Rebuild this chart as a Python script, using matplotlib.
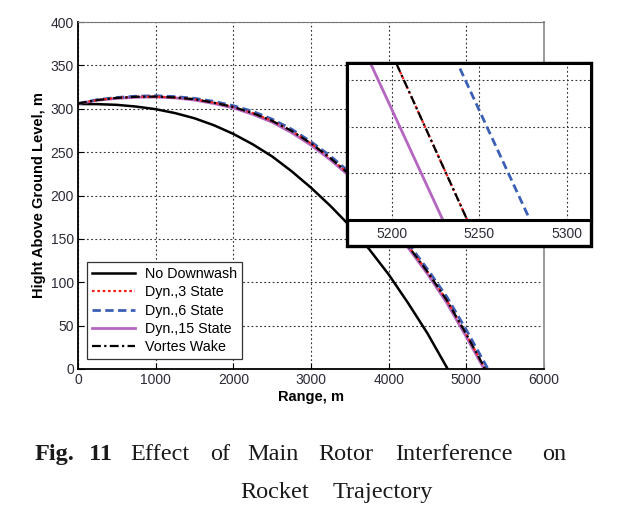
import matplotlib
matplotlib.use("Agg")
import matplotlib.pyplot as plt
from matplotlib.patches import Rectangle

# ---------------- data ----------------
x_nodw = [0, 250, 500, 750, 1000, 1250, 1500, 1750, 2000, 2250, 2500, 2750,
          3000, 3250, 3500, 3750, 4000, 4250, 4500, 4760]
y_nodw = [305.5, 305.3, 304.5, 302.5, 299.5, 295, 289, 281, 271, 259, 245, 228,
          209, 188, 165, 138, 109, 76, 41, 0]

x_dyn3 = [0, 250, 500, 750, 1000, 1250, 1500, 1750, 2000, 2250, 2500, 2750,
          3000, 3250, 3500, 3750, 4000, 4250, 4500, 4750, 5000, 5243]
y_dyn3 = [306, 310, 312.5, 313.8, 314, 313, 311, 307, 302, 295, 286, 274.5,
          260, 243, 224, 198.5, 170, 142, 112, 79, 40, 0]

x_dyn6 = [0, 250, 500, 750, 1000, 1250, 1500, 1750, 2000, 2250, 2500, 2750,
          3000, 3250, 3500, 3750, 4000, 4250, 4500, 4750, 5000, 5279]
y_dyn6 = [306, 310.5, 313, 314.5, 315, 314, 312, 308.5, 303.5, 297, 288, 276.5,
          262, 245.5, 226.5, 201, 173, 145, 115, 83, 45, 0]

x_dyn15 = [0, 250, 500, 750, 1000, 1250, 1500, 1750, 2000, 2250, 2500, 2750,
           3000, 3250, 3500, 3750, 4000, 4250, 4500, 4750, 5000, 5229]
y_dyn15 = [306, 309.8, 312, 313.2, 313.5, 312.5, 310, 306, 301, 293.5, 284.5, 272.5,
           258, 241, 222, 196.5, 168, 140, 109.5, 76, 37, 0]

x_vort = [0, 250, 500, 750, 1000, 1250, 1500, 1750, 2000, 2250, 2500, 2750,
          3000, 3250, 3500, 3750, 4000, 4250, 4500, 4750, 5000, 5243]
y_vort = [306, 310, 312.5, 313.8, 314, 313, 311, 307, 302, 295, 286, 274.5,
          260, 243, 224, 198.5, 170, 142, 112, 79, 40, 0]

labels = ["No Downwash", "Dyn.,3 State", "Dyn.,6 State", "Dyn.,15 State", "Vortes Wake"]
x_ticks = [0, 1000, 2000, 3000, 4000, 5000, 6000]
y_ticks = [0, 50, 100, 150, 200, 250, 300, 350, 400]
inset_x_ticks = [5200, 5250, 5300]
inset_y_ticks = [2, 4, 6]

caption_line1 = ["Effect", "of", "Main", "Rotor", "Interference", "on"]
caption_line2 = ["Rocket", "Trajectory"]

# ---------------- styles ----------------
W, H = 617, 514
styles = [
    dict(color="black", ls="-", lw=1.8),
    dict(color="#ff2020", ls=(0, (1.2, 1.2)), lw=1.6),
    dict(color="#3a5fb5", ls=(0, (3, 1.6)), lw=2.0),
    dict(color="#b466c0", ls="-", lw=2.0),
    dict(color="black", ls=(0, (4, 1.5, 1, 1.5)), lw=1.6),
]
series = [(x_nodw, y_nodw), (x_dyn3, y_dyn3), (x_dyn6, y_dyn6),
          (x_dyn15, y_dyn15), (x_vort, y_vort)]
order = [0, 3, 2, 1, 4]

plt.rcParams["font.family"] = ["Liberation Sans", "DejaVu Sans"]
fig = plt.figure(figsize=(W / 100, H / 100), dpi=100)

def fx(px):
    return px / W

def fy(py):
    return 1 - py / H

grid_kw = dict(color="#333333", linestyle=(0, (1.6, 2.2)), linewidth=0.8)
tick_color = "#2b2b38"

# ---------------- main axes ----------------
ax = fig.add_axes([fx(78), fy(369), (544 - 78) / W, (369 - 22) / H])
handles = [None] * 5
for i in order:
    xs, ys = series[i]
    (h,) = ax.plot(xs, ys, label=labels[i], **styles[i])
    handles[i] = h
ax.set_xlim(0, 6000)
ax.set_ylim(0, 400)
ax.set_xticks(x_ticks)
ax.set_yticks(y_ticks)
ax.grid(True, **grid_kw)
ax.tick_params(direction="in", length=4, width=0.8, labelsize=10,
               labelcolor=tick_color, top=False, right=False, pad=3)
for s in ["left", "bottom"]:
    ax.spines[s].set_linewidth(1.3)
    ax.spines[s].set_color("black")
ax.spines["top"].set_color("#777777")
ax.spines["top"].set_linewidth(0.8)
ax.spines["right"].set_color("#999999")
ax.spines["right"].set_linewidth(1.4)
ax.set_xlabel("Range, m", fontsize=10.5, fontweight="bold", labelpad=2)
ax.set_ylabel("Hight Above Ground Level, m", fontsize=10.5, fontweight="bold", labelpad=3)

leg = ax.legend(handles=handles, loc="upper left",
                bbox_to_anchor=(fx(87), fy(262)), bbox_transform=fig.transFigure,
                fontsize=10.3, frameon=True, fancybox=False, framealpha=1,
                edgecolor="#333333", handlelength=3.0, handletextpad=0.7,
                labelspacing=0.3, borderpad=0.35, borderaxespad=0)
leg.get_frame().set_linewidth(0.9)

# ---------------- inset ----------------
rect = Rectangle((fx(347), fy(246)), (591 - 347) / W, (246 - 63) / H,
                 transform=fig.transFigure, facecolor="white",
                 edgecolor="black", linewidth=2.4, zorder=5)
fig.add_artist(rect)

axi = fig.add_axes([fx(347), fy(220), (591 - 347) / W, (220 - 63) / H])
axi.set_zorder(6)
for i in order:
    xs, ys = series[i]
    axi.plot(xs, ys, **styles[i])
axi.set_xlim(5174, 5314)
axi.set_ylim(0, 6.72)
axi.set_xticks(inset_x_ticks)
axi.set_yticks(inset_y_ticks)
axi.set_yticklabels([])
axi.grid(True, **grid_kw)
axi.tick_params(axis="both", length=0, labelsize=10, labelcolor=tick_color, pad=5)
for s in axi.spines.values():
    s.set_color("black")
    s.set_linewidth(2.2)

# ---------------- caption ----------------
serif = ["Liberation Serif", "DejaVu Serif"]
cap_color = "#1a1a1a"
fs_cap = 17.5
fig.text(fx(35), fy(460), "Fig.", fontsize=fs_cap, fontweight="bold",
         family=serif, color=cap_color, ha="left", va="baseline")
fig.text(fx(89), fy(460), "11", fontsize=fs_cap, fontweight="bold",
         family=serif, color=cap_color, ha="left", va="baseline")
line1_x = [130, 210, 247, 318, 395, 542]
for word, px in zip(caption_line1, line1_x):
    fig.text(fx(px), fy(460), word, fontsize=fs_cap, family=serif,
             color=cap_color, ha="left", va="baseline")
line2_x = [240, 333]
for word, px in zip(caption_line2, line2_x):
    fig.text(fx(px), fy(498), word, fontsize=fs_cap, family=serif,
             color=cap_color, ha="left", va="baseline")

fig.savefig("out.png", dpi=100, facecolor="white")
